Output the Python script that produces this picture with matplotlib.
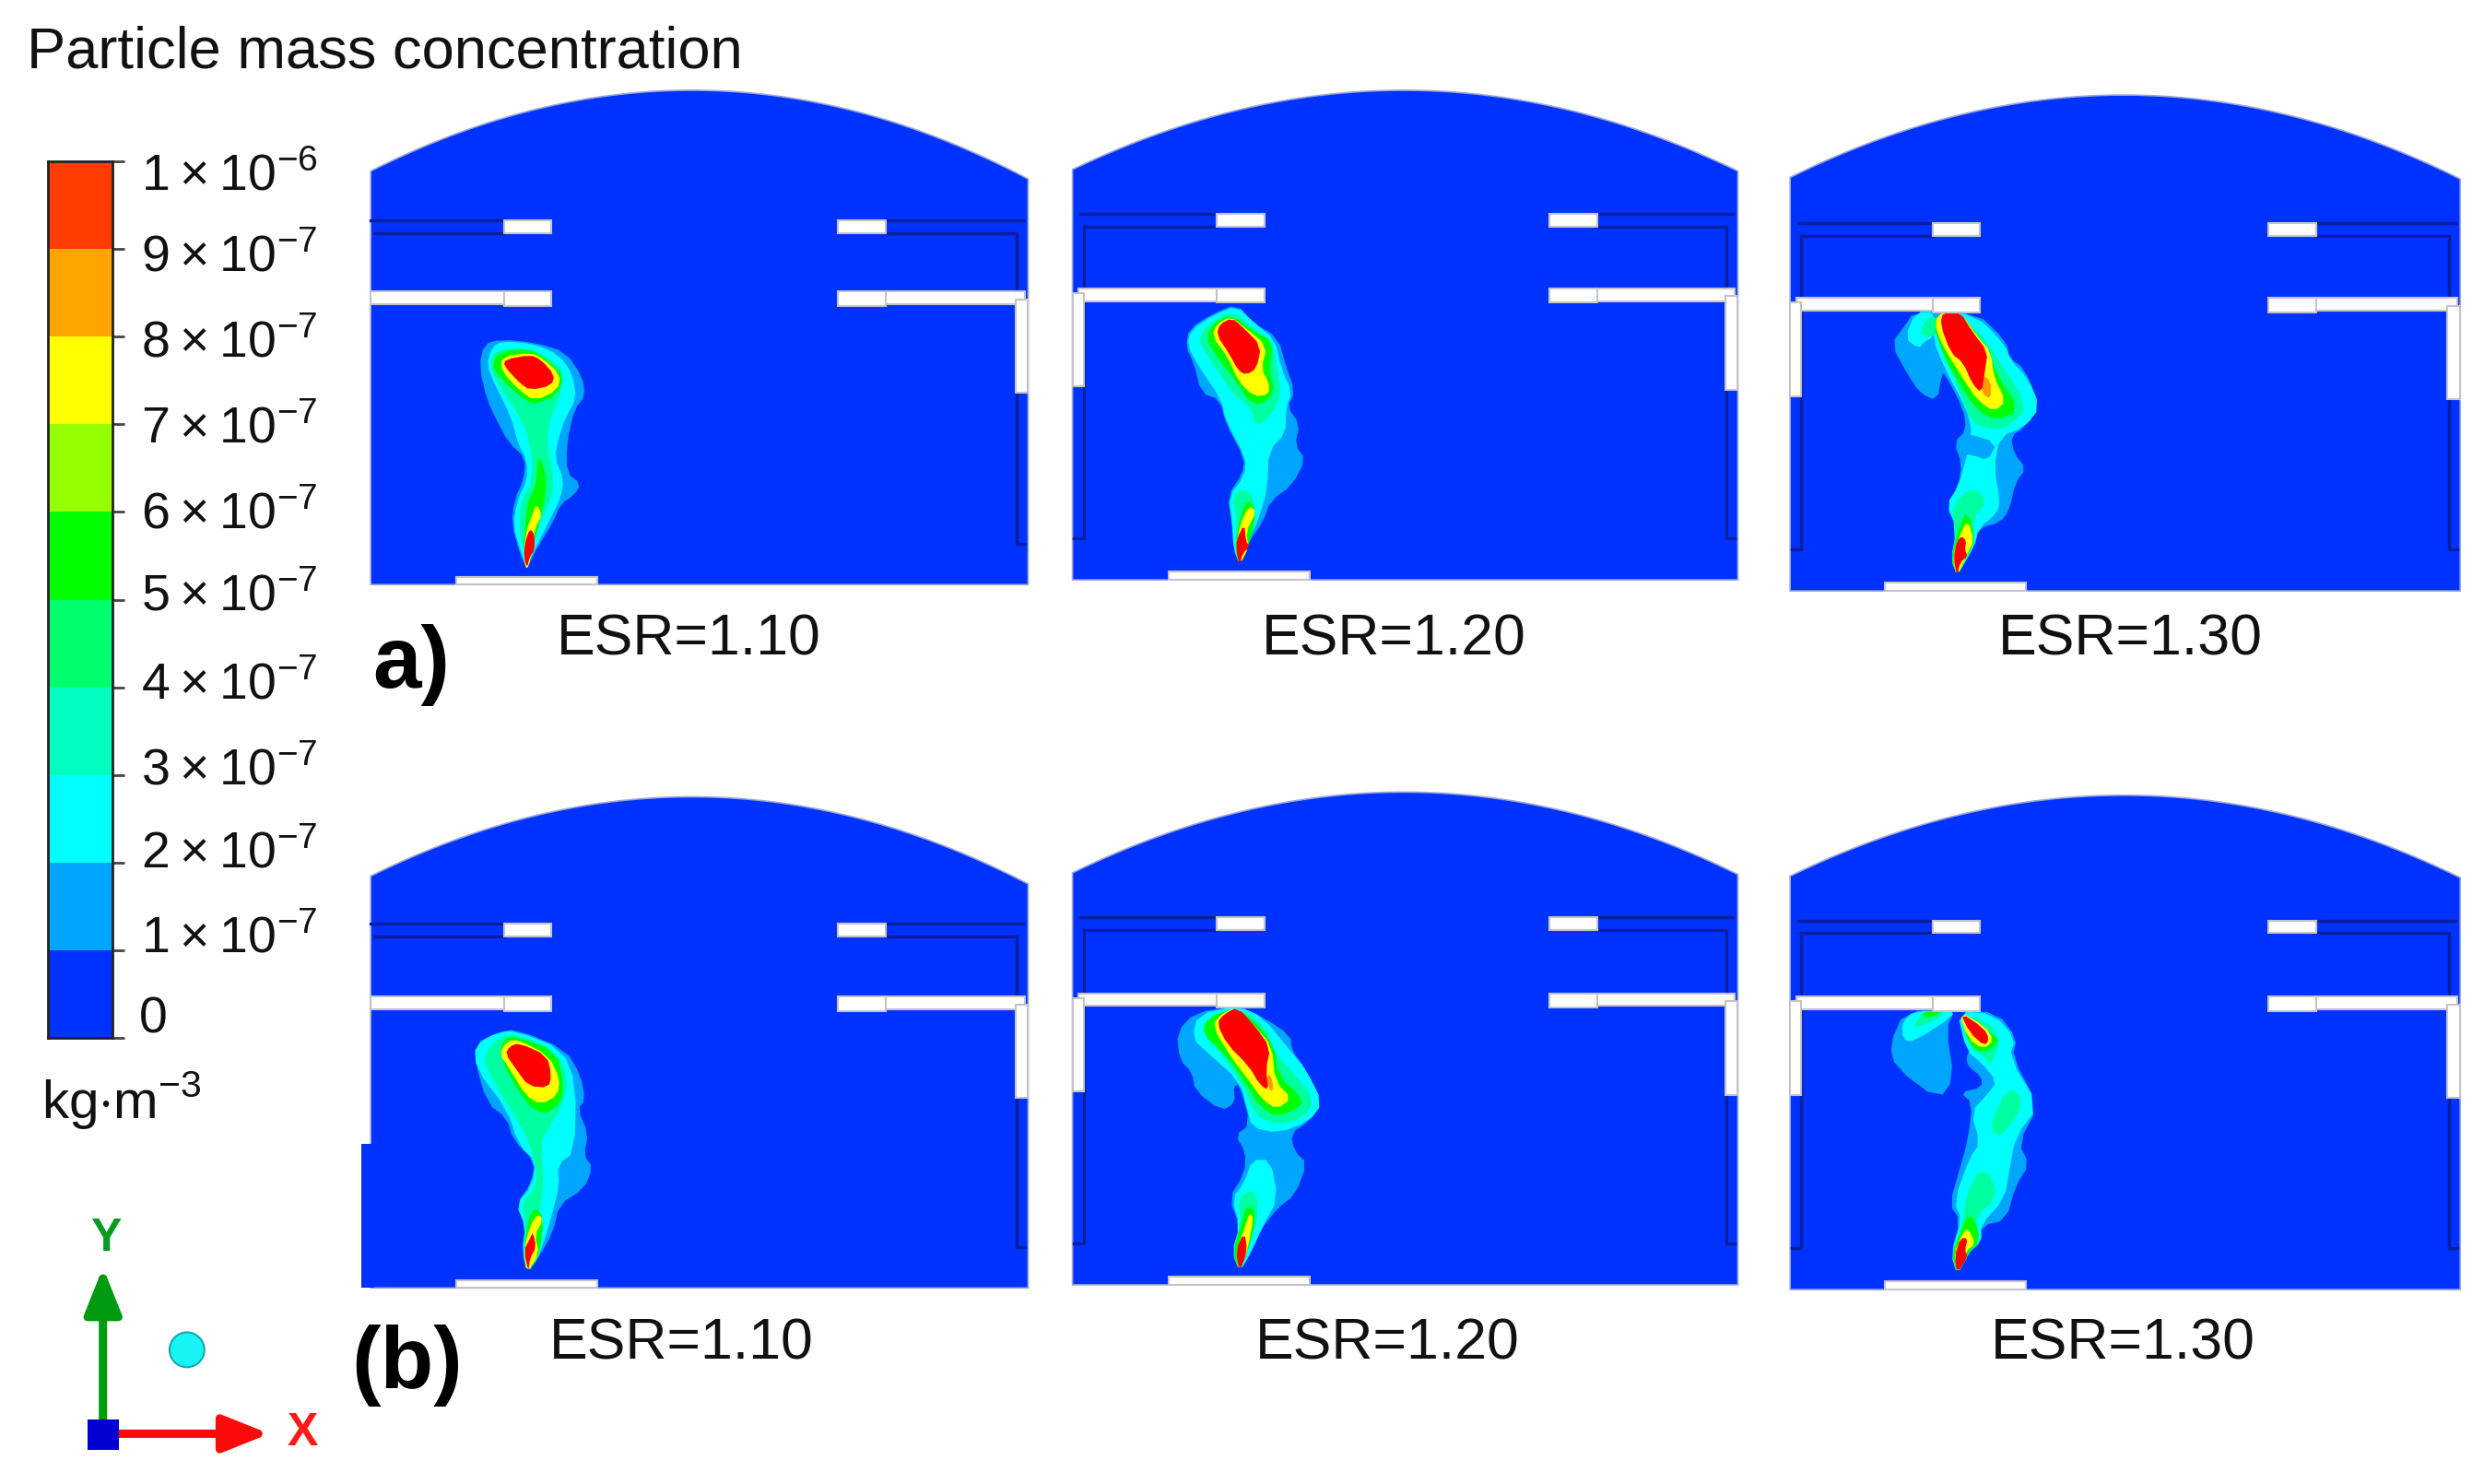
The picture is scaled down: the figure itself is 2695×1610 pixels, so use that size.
import matplotlib
matplotlib.use("Agg")
import matplotlib.pyplot as plt
from matplotlib.patches import Rectangle, Polygon, Circle
import numpy as np

plt.rcParams['font.family'] = ['Liberation Sans', 'DejaVu Sans']
plt.rcParams['mathtext.fontset'] = 'custom'
plt.rcParams['mathtext.rm'] = 'Liberation Sans'

W, H = 2695, 1610
S = 2695 / 1568

# colour bar
cbar_edges = [0, 1e-7, 2e-7, 3e-7, 4e-7, 5e-7, 6e-7, 7e-7, 8e-7, 9e-7, 1e-6]
cbar_colors = ['#0032ff', '#00a5ff', '#00ffff', '#00ffc0', '#00ff6e',
               '#00ff00', '#96ff00', '#ffff00', '#ffa500', '#ff3c00']
cbar_labels = ['0', r'$1\times10^{-7}$', r'$2\times10^{-7}$', r'$3\times10^{-7}$',
               r'$4\times10^{-7}$', r'$5\times10^{-7}$', r'$6\times10^{-7}$',
               r'$7\times10^{-7}$', r'$8\times10^{-7}$', r'$9\times10^{-7}$',
               r'$1\times10^{-6}$']
cbar_label_y = [644, 593, 539, 487, 433, 377, 325, 271, 217, 163, 112]

# panel outlines: left, right, apex x, apex y, arc y left, arc y right, bottom
panel_names = ['ESR=1.10', 'ESR=1.20', 'ESR=1.30', 'ESR=1.10', 'ESR=1.20', 'ESR=1.30']
panel_left = [234, 677, 1130, 234, 677, 1130]
panel_right = [649, 1097, 1553, 649, 1097, 1553]
panel_apex_x = [440, 885, 1340, 440, 885, 1340]
panel_apex_y = [57, 57, 60, 503, 500, 502]
panel_arc_l = [108, 107, 112, 553, 551, 553]
panel_arc_r = [113, 108, 113, 558, 552, 554]
panel_bottom = [369, 366, 373, 813, 811, 814]
panel_upper = [139, 135, 141, 583, 579, 581]
panel_lower = [184, 182, 188, 629, 627, 629]
baffle_l = [318, 768, 1220, 318, 768, 1220]
baffle_r = [529, 978, 1432, 529, 978, 1432]
floor_l = [288, 738, 1190, 288, 738, 1190]
left_wall = [False, True, True, False, True, True]
label_x = [435, 880, 1345, 430, 876, 1340]
label_y = [404, 404, 404, 848, 848, 848]

# plume layers, 0 light blue .. 6 red, in the pixels of a 3x crop
layer_colors = ['#00a5ff', '#00ffff', '#00ffa0', '#00ff00', '#ffff00', '#ff9a00', '#ff0000']
origin_a1 = (500, 340)
plume_a1 = [
    (0, [(75,100),(130,85),(240,95),(340,125),(395,205),(405,270),(370,310),(345,420),(345,520),(390,555),(370,590),(325,620),(300,680),(250,760),(230,800),(215,835),(190,775),(165,685),(175,605),(205,540),(210,470),(155,420),(115,345),(85,280),(60,175)]),
    (1, [(100,110),(140,90),(240,100),(320,135),(365,200),(375,280),(340,340),(320,400),(305,470),(335,540),(325,600),(295,660),(255,740),(230,790),(215,830),(195,775),(170,690),(185,605),(215,545),(215,480),(185,420),(165,340),(110,230),(85,170)]),
    (2, [(110,120),(210,110),(300,150),(340,200),(320,280),(290,340),(280,420),(300,520),(300,580),(270,660),(240,730),(225,800),(215,830),(205,770),(190,700),(195,615),(235,540),(225,420),(190,330),(120,230),(95,170)]),
    (3, [(125,125),(230,115),(290,160),(335,205),(310,270),(240,295),(225,290),(180,260),(125,205),(100,170)]),
    (3, [(260,470),(280,540),(270,620),(250,700),(225,790),(215,830),(205,770),(210,700),(215,620),(245,560),(250,480)]),
    (4, [(135,140),(225,128),(265,145),(325,200),(315,250),(240,285),(190,250),(130,185)]),
    (4, [(245,620),(265,655),(240,700),(235,760),(220,825),(210,830),(205,770),(215,700),(235,650)]),
    (6, [(145,150),(225,135),(260,150),(305,200),(295,235),(225,250),(190,225),(140,170)]),
    (6, [(225,700),(240,720),(240,770),(225,790),(215,830),(205,790),(210,740)]),
]
origin_a2 = (1220, 300)
plume_a2 = [
    (0, [(365,90),(420,150),(500,200),(525,290),(555,375),(530,425),(570,480),(555,550),(590,595),(545,680),(475,730),(450,800),(400,870),(375,940),(355,885),(350,800),(335,715),(385,640),(390,590),(330,480),(310,400),(250,380),(225,280),(200,230),(210,170),(290,120)]),
    (1, [(365,95),(420,150),(490,205),(510,300),(545,375),(525,430),(525,510),(470,565),(465,690),(440,780),(400,870),(375,940),(355,885),(350,800),(340,715),(390,650),(395,590),(330,470),(315,400),(240,290),(205,225),(215,175),(290,125)]),
    (2, [(350,110),(410,160),(480,210),(500,310),(510,380),(480,450),(425,490),(415,430),(350,380),(280,270),(240,210),(265,160)]),
    (2, [(405,690),(430,760),(405,860),(375,940),(360,880),(365,790),(350,710)]),
    (3, [(350,125),(420,180),(485,210),(470,300),(490,380),(440,420),(400,400),(370,350),(300,260),(265,200),(290,150)]),
    (3, [(400,720),(430,765),(410,860),(375,940),(360,885),(375,790)]),
    (4, [(345,130),(390,165),(465,225),(445,300),(470,345),(470,385),(420,390),(370,340),(335,260),(285,195),(300,155)]),
    (4, [(405,745),(430,765),(395,830),(405,880),(375,940),(365,880),(375,810)]),
    (6, [(350,135),(385,165),(445,225),(430,300),(395,320),(370,305),(340,250),(300,190),(310,155)]),
    (6, [(390,805),(395,860),(408,880),(385,900),(375,940),(365,900),(365,855)]),
]
origin_a3 = (2000, 310)
plume_a3 = [
    (0, [(230,85),(430,85),(530,180),(540,235),(590,270),(640,395),(590,460),(545,490),(555,545),(595,595),(560,640),(540,730),(510,770),(440,790),(430,840),(400,890),(370,945),(350,890),(370,780),(335,715),(375,650),(385,580),(360,510),(400,470),(390,400),(330,285),(320,290),(305,375),(250,350),(210,290),(155,190),(200,130)]),
    (1, [(300,85),(430,95),(525,190),(545,245),(600,300),(640,395),(590,460),(510,490),(490,590),(510,700),(500,740),(440,790),(425,850),(400,890),(370,945),(350,890),(370,790),(335,715),(375,650),(400,560),(420,480),(400,400),(330,270),(290,170)]),
    (1, [(200,170),(235,85),(300,85),(290,170),(265,180),(245,205)]),
    (0, [(365,510),(400,480),(500,510),(470,570),(420,550),(385,550)]),
    (2, [(330,90),(430,130),(510,250),(600,390),(550,450),(490,470),(420,450),(380,350),(320,200)]),
    (2, [(420,655),(470,700),(420,760),(425,850),(370,945),(360,790),(355,710)]),
    (2, [(245,150),(290,85),(310,150),(280,170)]),
    (3, [(320,85),(380,85),(470,210),(500,290),(575,405),(495,440),(430,400),(380,320),(330,240),(290,120)]),
    (3, [(405,730),(430,830),(400,880),(370,945),(350,885),(375,790)]),
    (4, [(320,85),(380,85),(440,170),(480,215),(490,300),(530,375),(490,410),(440,375),(400,320),(360,255),(320,190),(295,120)]),
    (4, [(405,760),(425,830),(400,880),(370,945),(355,885),(375,820)]),
    (5, [(450,290),(480,310),(480,370),(450,350)]),
    (6, [(325,85),(380,85),(420,150),(470,215),(460,280),(450,350),(420,320),(390,250),(350,220),(315,125)]),
    (6, [(385,815),(400,830),(395,860),(405,880),(380,900),(370,945),(358,885),(370,830)]),
]
origin_b1 = (470, 1090)
plume_b1 = [
    (0, [(210,90),(270,80),(430,145),(480,230),(495,310),(470,340),(505,420),(490,490),(520,530),(490,600),(410,650),(390,740),(345,820),(305,875),(290,800),(300,720),(270,650),(320,580),(330,510),(260,440),(240,370),(175,320),(135,180),(150,120)]),
    (1, [(210,90),(270,85),(420,145),(465,260),(460,480),(405,520),(410,590),(385,690),(345,820),(305,875),(290,800),(300,720),(270,650),(320,590),(335,510),(280,460),(240,340),(140,210),(135,130)]),
    (2, [(220,105),(270,95),(400,150),(440,240),(420,330),(370,410),(350,450),(360,590),(345,680),(330,820),(305,875),(295,800),(300,690),(290,640),(340,590),(330,500),(290,400),(170,210),(170,150)]),
    (3, [(230,110),(270,105),(400,150),(425,260),(415,320),(360,360),(300,320),(215,170)]),
    (3, [(330,660),(360,690),(345,820),(305,875),(295,800),(310,700)]),
    (4, [(240,118),(280,115),(375,165),(412,240),(405,295),(350,325),(300,295),(250,210),(215,160)]),
    (4, [(340,680),(358,700),(330,750),(345,810),(305,875),(295,800),(315,720)]),
    (6, [(250,135),(280,125),(370,165),(385,230),(375,270),(310,265),(270,210),(235,160)]),
    (6, [(325,740),(335,790),(315,825),(310,870),(295,800),(315,760)]),
]
origin_b2 = (1230, 1070)
plume_b2 = [
    (0, [(200,85),(340,65),(420,100),(510,160),(515,210),(560,270),(615,380),(570,440),(510,480),(525,540),(565,575),(525,680),(470,720),(415,790),(385,860),(345,930),(320,865),(345,780),(310,690),(360,610),(365,540),(330,485),(380,450),(345,320),(325,325),(330,380),(285,405),(200,340),(190,280),(150,240),(140,150)]),
    (1, [(340,65),(420,100),(510,210),(560,270),(615,380),(570,440),(470,478),(385,460),(370,400),(345,310),(240,215),(190,170),(210,90)]),
    (1, [(385,565),(445,565),(470,690),(420,780),(385,860),(345,930),(320,865),(345,780),(320,690),(360,640)]),
    (2, [(335,70),(430,130),(460,220),(520,280),(590,370),(550,430),(465,450),(395,420),(360,330),(280,210),(225,160),(240,100)]),
    (2, [(385,660),(405,700),(400,780),(345,930),(330,860),(350,780),(340,690)]),
    (3, [(335,70),(400,120),(460,200),(470,290),(555,370),(530,400),(465,425),(410,390),(360,310),(305,230),(220,150),(245,100)]),
    (3, [(370,710),(400,740),(375,850),(345,930),(322,865),(350,770)]),
    (4, [(335,68),(395,130),(450,195),(460,310),(515,365),(465,400),(420,370),(370,300),(320,235),(255,130),(285,90)]),
    (4, [(378,735),(390,755),(370,860),(345,930),(335,860),(360,790)]),
    (5, [(435,280),(450,300),(455,340),(440,340)]),
    (6, [(338,68),(395,130),(445,200),(430,270),(440,340),(410,320),(375,260),(305,190),(270,120),(295,90)]),
    (6, [(360,800),(370,860),(345,930),(332,860)]),
]
origin_b3 = (2020, 1070)
plume_b3 = [
    (0, [(140,80),(300,80),(275,140),(300,300),(250,370),(110,265),(90,190)]),
    (0, [(310,80),(440,85),(505,170),(490,230),(575,390),(510,510),(545,580),(500,650),(470,760),(390,780),(390,830),(345,870),(310,940),(290,870),(320,760),(285,710),(320,590),(345,500),(360,380),(320,345),(390,330),(390,295),(345,260),(340,230),(355,200)]),
    (1, [(135,175),(130,120),(170,80),(290,80),(300,95),(170,180)]),
    (1, [(310,80),(430,90),(500,170),(480,230),(575,390),(500,490),(480,600),(465,690),(385,780),(390,830),(345,870),(310,940),(290,870),(325,760),(300,700),(350,560),(385,510),(355,410),(410,350),(440,310),(390,250),(340,210)]),
    (2, [(170,130),(195,80),(280,85),(220,120),(175,135)]),
    (2, [(320,90),(420,120),(450,180),(420,260),(400,230),(350,200)]),
    (2, [(480,320),(530,380),(470,470),(440,490),(415,450)]),
    (2, [(380,600),(420,610),(440,690),(370,750),(350,870),(310,940),(300,870),(330,760),(340,680)]),
    (3, [(195,85),(265,80),(225,100),(205,100)]),
    (3, [(315,80),(430,160),(450,180),(395,220),(350,190)]),
    (3, [(345,745),(370,760),(385,830),(345,870),(310,940),(292,870),(325,790)]),
    (4, [(315,80),(400,130),(430,175),(395,205),(345,170)]),
    (4, [(345,785),(370,840),(340,860),(310,940),(300,870),(325,810)]),
    (6, [(320,85),(395,135),(415,170),(400,195),(350,150)]),
    (6, [(320,820),(345,820),(335,860),(345,880),(310,935),(302,880)]),
]
plumes = [plume_a1, plume_a2, plume_a3, plume_b1, plume_b2, plume_b3]
origins = [origin_a1, origin_a2, origin_a3, origin_b1, origin_b2, origin_b3]


def smooth(points, n=1):
    # corner cutting, the cfd contours have no hard corners
    pts = np.array(points, dtype=float)
    for _ in range(n):
        nxt = np.roll(pts, -1, axis=0)
        pts = np.column_stack((0.75*pts + 0.25*nxt, 0.25*pts + 0.75*nxt)).reshape(-1, 2)
    return pts


def white_bar(ax, x0, x1, y0, y1, edge='#c2c4ca'):
    ax.add_patch(Rectangle((x0*S, y0*S), (x1-x0)*S, (y1-y0)*S, fc='white', ec=edge, lw=1.5, zorder=5))


def draw_panel(ax, i):
    l, r, b = panel_left[i], panel_right[i], panel_bottom[i]
    # dome: parabola through the three read points
    xs = np.linspace(l, r, 200)
    coef = np.polyfit([l, panel_apex_x[i], r], [panel_arc_l[i], panel_apex_y[i], panel_arc_r[i]], 2)
    ys = np.polyval(coef, xs)
    outline = np.vstack(([[l, b]], np.column_stack((xs, ys)), [[r, b]])) * S
    ax.add_patch(Polygon(outline, closed=True, fc='#0032ff', ec='#9aa6d8', lw=1.2, zorder=1))
    if i == 3:
        ax.add_patch(Rectangle((228*S, 722*S), 8*S, (b-722)*S, fc='#0032ff', ec='none', zorder=1))

    ox, oy = origins[i]
    for level, pts in plumes[i]:
        p = smooth(pts) / 3.0 + np.array([ox, oy])
        ax.add_patch(Polygon(p, closed=True, fc=layer_colors[level], ec='none', zorder=2))

    up, lo, bl, br, fl = panel_upper[i], panel_lower[i], baffle_l[i], baffle_r[i], floor_l[i]
    line = '#0a1ea0'
    lw = 2.4
    # thin walls of the upper duct
    xl = l + 5 if left_wall[i] else l
    ax.plot(np.array([xl, bl])*S, np.array([up, up])*S, color=line, lw=lw, zorder=3)
    ax.plot(np.array([xl + 2, bl])*S, np.array([up+8, up+8])*S, color=line, lw=lw, zorder=3)
    ax.plot(np.array([br+30, r-3])*S, np.array([up, up])*S, color=line, lw=lw, zorder=3)
    ax.plot(np.array([br+30, r-7, r-7, r-2])*S, np.array([up+8, up+8, b-26, b-26])*S, color=line, lw=lw, zorder=3)
    if left_wall[i]:
        ax.plot(np.array([l+7, l+7, l+1])*S, np.array([up+8, b-26, b-26])*S, color=line, lw=lw, zorder=3)

    # white baffles, nozzles and side walls
    if left_wall[i]:
        white_bar(ax, l+4, bl, lo, lo+8)
    else:
        white_bar(ax, l, bl, lo, lo+8)
    white_bar(ax, br+29, r-2, lo, lo+8)
    for x in (bl, br):
        white_bar(ax, x, x+30, up, up+8)
        white_bar(ax, x, x+30, lo, lo+9)
    white_bar(ax, r-8, r, lo+5, lo+64)
    if left_wall[i]:
        white_bar(ax, l, l+7, lo+3, lo+62)
    white_bar(ax, fl, fl+89, b-5, b)

    ax.text(label_x[i]*S, label_y[i]*S, panel_names[i], fontsize=45, ha='center', va='center', color='#111111', zorder=6)


def draw_triad(ax):
    style = '-|>,head_width=0.6,head_length=1.5'
    ax.annotate('', xy=(65*S, 800*S), xytext=(65*S, 905*S),
                arrowprops=dict(arrowstyle=style, mutation_scale=20, color='#009a10', lw=6.5, shrinkA=0, shrinkB=0))
    ax.annotate('', xy=(170*S, 905*S), xytext=(65*S, 905*S),
                arrowprops=dict(arrowstyle=style, mutation_scale=20, color='#ff0a0a', lw=6.5, shrinkA=0, shrinkB=0))
    ax.add_patch(Rectangle((55*S, 896*S), 20*S, 19*S, fc='#0000d2', ec='none', zorder=4))
    ax.add_patch(Circle((118*S, 852*S), 11*S, fc='#18f4f4', ec='#14a9ad', lw=1.5, zorder=4))
    ax.text(67*S, 782*S, 'Y', color='#0a9a20', fontsize=36, fontweight='bold', ha='center', va='center')
    ax.text(191*S, 905*S, 'X', color='#ff1a1a', fontsize=36, fontweight='bold', ha='center', va='center')


fig = plt.figure(figsize=(W/100, H/100), dpi=100, facecolor='white')
ax = fig.add_axes([0, 0, 1, 1])
ax.set_xlim(0, W)
ax.set_ylim(H, 0)
ax.axis('off')

for i in range(6):
    draw_panel(ax, i)

ax.text(17*S, 33*S, 'Particle mass concentration', fontsize=45.5, ha='left', va='center', color='#111111')
ax.text(26*S, 695*S, r'kg$\cdot$m$^{-3}$', fontsize=42, ha='left', va='center', color='#111111')
ax.text(235*S, 420*S, 'a)', fontsize=68, fontweight='bold', ha='left', va='center', color='black')
ax.text(222*S, 862*S, '(b)', fontsize=68, fontweight='bold', ha='left', va='center', color='black')
draw_triad(ax)

# colour bar on its own axes, pixel box
cb_l, cb_r, cb_t, cb_b = 30*S, 71*S, 102*S, 655*S
cax = fig.add_axes([cb_l/W, 1 - cb_b/H, (cb_r-cb_l)/W, (cb_b-cb_t)/H])
cax.bar([0]*10, np.diff(cbar_edges), bottom=cbar_edges[:-1], width=1, color=cbar_colors, align='center')
cax.set_xlim(-0.5, 0.5)
cax.set_ylim(0, 1e-6)
cax.set_xticks([])
cax.yaxis.tick_right()
cax.set_yticks(cbar_edges)
cax.set_yticklabels([])
cax.tick_params(axis='y', length=9, width=2, color='#444444')
for s in cax.spines.values():
    s.set_color('#222222')
    s.set_linewidth(2)
# labels drift away from the ticks in the original, so they sit on their own y
for lab, y in zip(cbar_labels, cbar_label_y):
    x = 89 if lab != '0' else 88
    ax.text(x*S, y*S, lab, fontsize=40, ha='left', va='center', color='#111111')

fig.savefig('out.png', dpi=100)
